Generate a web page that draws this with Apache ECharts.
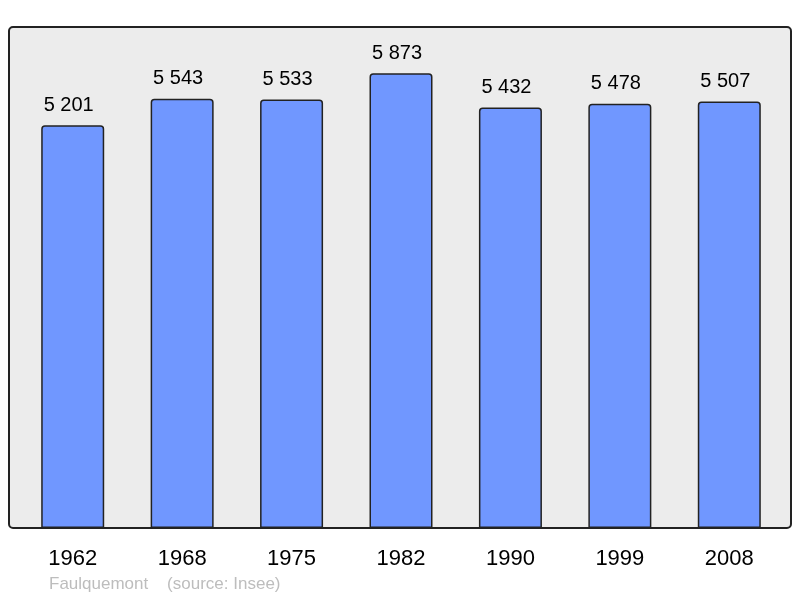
<!DOCTYPE html>
<html>
<head>
<meta charset="utf-8">
<script src="https://cdn.jsdelivr.net/npm/echarts@6/dist/echarts.min.js"></script>
<style>
  html, body { margin: 0; padding: 0; background: #fff; }
  #chart { width: 800px; height: 598px; }
</style>
</head>
<body>
<div id="chart"></div>
<script>
const years = ['1962', '1968', '1975', '1982', '1990', '1999', '2008'];
const population = [5201, 5543, 5533, 5873, 5432, 5478, 5507];
const footnote = 'Faulquemont    (source: Insee)';

const fmt = v => String(v).replace(/\B(?=(\d{3})+(?!\d))/g, ' ');

const chart = echarts.init(document.getElementById('chart'));

chart.setOption({
  animation: false,
  backgroundColor: '#ffffff',
  textStyle: { fontFamily: 'Liberation Sans, Arial, sans-serif' },
  grid: { left: 18, right: 16, top: 27, bottom: 70 },
  graphic: [
    {
      type: 'rect',
      z: -10,
      shape: { x: 9, y: 27, width: 782, height: 501, r: 4 },
      style: { fill: '#ececec', stroke: '#222', lineWidth: 2 }
    },
    {
      type: 'text',
      x: 49,
      y: 584,
      style: {
        text: footnote,
        fill: '#bdbdbd',
        verticalAlign: 'middle',
        font: '17px "Liberation Sans", Arial, sans-serif'
      }
    }
  ],
  xAxis: {
    type: 'category',
    data: years,
    axisLine: { show: false },
    axisTick: { show: false },
    axisLabel: {
      margin: 20,
      color: '#000',
      fontSize: 22
    }
  },
  yAxis: {
    type: 'value',
    min: 0,
    max: 6470,
    show: false,
    splitLine: { show: false }
  },
  series: [{
    type: 'bar',
    data: population,
    barWidth: 63,
    itemStyle: {
      color: '#7097ff',
      borderColor: '#222',
      borderWidth: 1.5,
      borderRadius: [3, 3, 0, 0]
    },
    label: {
      show: true,
      position: 'top',
      distance: 10,
      offset: [-4, 0],
      color: '#000',
      fontSize: 20,
      formatter: p => fmt(p.value)
    }
  }]
});
</script>
</body>
</html>
